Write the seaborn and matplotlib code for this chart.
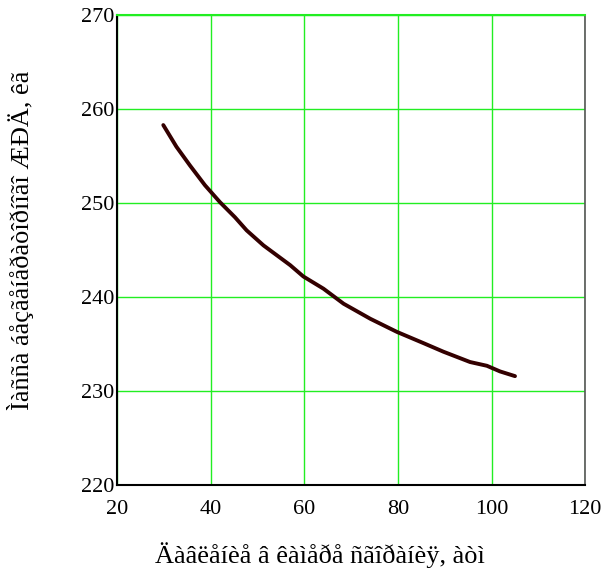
import pandas as pd
import matplotlib
matplotlib.use('Agg')
import matplotlib.pyplot as plt
import seaborn as sns

# Давление в камере сгорания (атм) и масса ЖРД (кг)
pressure = [29.9, 32.7, 35.6, 38.8, 42.0, 45.2, 47.7, 51.3, 57.0, 59.8, 64.1,
            68.4, 74.1, 79.8, 85.5, 89.7, 95.4, 99.0, 101.8, 105.0]
mass = [258.3, 256.0, 254.0, 251.9, 250.1, 248.5, 247.1, 245.5, 243.4, 242.2, 240.9,
        239.3, 237.7, 236.3, 235.1, 234.2, 233.1, 232.7, 232.1, 231.6]

x_ticks = [20, 40, 60, 80, 100, 120]
y_ticks = [220, 230, 240, 250, 260, 270]

x_label = 'Äàâëåíèå â êàìåðå ñãîðàíèÿ, àòì'
y_label = 'Ìàññà áåçãåíåðàòîðíîãî ÆÐÄ, êã'

df = pd.DataFrame({'p': pressure, 'm': mass})

sns.set_style('white')
plt.rcParams['font.family'] = ['Liberation Serif', 'DejaVu Serif']

fig = plt.figure(figsize=(6.09, 5.79), dpi=100)
ax = fig.add_axes([0.192, 0.162, 0.769, 0.812])

sns.lineplot(data=df, x='p', y='m', ax=ax, color='#330000', linewidth=2.8,
             solid_capstyle='round')

ax.set_xlim(20, 120)
ax.set_ylim(220, 270)
ax.set_xticks(x_ticks)
ax.set_yticks(y_ticks)
ax.grid(True, color='#22ee22', linewidth=1)
ax.set_axisbelow(True)
ax.tick_params(length=0, labelsize=16, colors='black', pad=2)
ax.tick_params(axis='x', pad=11)

for s in ['left', 'bottom']:
    ax.spines[s].set_color('black')
    ax.spines[s].set_linewidth(1.5)
ax.spines['right'].set_color('#555555')
ax.spines['right'].set_linewidth(1.2)
ax.spines['top'].set_color('#22ee22')
ax.spines['top'].set_linewidth(1.5)

ax.set_xlabel(x_label, fontsize=19, color='black')
ax.set_ylabel(y_label, fontsize=19, color='black')
ax.xaxis.set_label_coords(0.434, -0.122)
ax.yaxis.set_label_coords(-0.178, 0.52)

fig.savefig('out.png', dpi=100)
